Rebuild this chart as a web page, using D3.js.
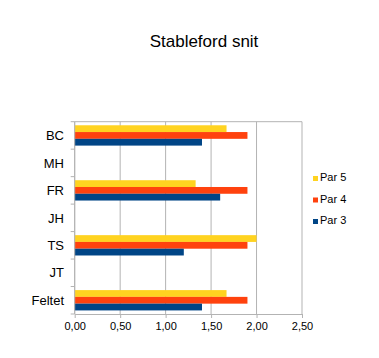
<!DOCTYPE html>
<html><head><meta charset="utf-8">
<script src="https://cdn.jsdelivr.net/npm/d3@7"></script>
<style>body{margin:0;background:#fff}svg{display:block}text{font-family:"Liberation Sans",Arial,sans-serif;fill:#000}</style>
</head><body><svg id="c" width="379" height="358"></svg>
<script>
const categories = ["BC","MH","FR","JH","TS","JT","Feltet"];
const seriesNames = ["Par 5","Par 4","Par 3"];
const par5 = [1.67, 0, 1.33, 0, 2.00, 0, 1.67];
const par4 = [1.90, 0, 1.90, 0, 1.90, 0, 1.90];
const par3 = [1.40, 0, 1.60, 0, 1.20, 0, 1.40];
const colors = ["#FFD320","#FF420E","#004586"];
const xTicks = [0, 0.5, 1, 1.5, 2, 2.5];

const svg = d3.select("#c");
const L = 74.7, R = 302, T = 121.7, B = 314;
const x = d3.scaleLinear().domain([0, 2.5]).range([L, R]);
const y = d3.scaleBand().domain(categories).range([T, B]).paddingInner(0.26).paddingOuter(0.13);
const ys = d3.scaleBand().domain(seriesNames).range([0, y.bandwidth()]);
const fmt = v => d3.format(".2f")(v).replace(".", ",");

svg.append("text").attr("x", 204).attr("y", 47).attr("text-anchor","middle").attr("font-size", 17).text("Stableford snit");

// grid
svg.append("g").selectAll("line").data(xTicks).join("line")
  .attr("x1", d => x(d)).attr("x2", d => x(d)).attr("y1", T).attr("y2", B)
  .attr("stroke", "#b3b3b3").attr("stroke-width", 1);
svg.append("line").attr("x1", L).attr("x2", R).attr("y1", T).attr("y2", T).attr("stroke","#b3b3b3");

// bars
const data = [par5, par4, par3];
data.forEach((vals, si) => {
  svg.append("g").selectAll("rect").data(categories).join("rect")
    .attr("x", x(0))
    .attr("y", (c) => y(c) + ys(seriesNames[si]))
    .attr("width", (c, i) => x(vals[i]) - x(0))
    .attr("height", ys.bandwidth())
    .attr("fill", colors[si]);
});

// axes
const xAxis = d3.axisBottom(x).tickValues(xTicks).tickFormat(fmt).tickSize(4).tickSizeOuter(0);
const gx = svg.append("g").attr("transform", `translate(0,${B})`).call(xAxis);
gx.select(".domain").attr("stroke", "#b3b3b3");
gx.selectAll(".tick line").attr("stroke", "#b3b3b3");
gx.selectAll(".tick text").attr("font-size", 11).attr("dy", "0.71em").attr("y", 8)
  .style("font-family", '"Liberation Sans",Arial,sans-serif').attr("fill","#000");

// y axis line and boundary ticks
svg.append("line").attr("x1", L).attr("x2", L).attr("y1", T).attr("y2", B).attr("stroke", "#b3b3b3");
const bounds = d3.range(categories.length + 1).map(i => T + i * (B - T) / categories.length);
svg.append("g").selectAll("line").data(bounds).join("line")
  .attr("x1", L - 4).attr("x2", L).attr("y1", d => d).attr("y2", d => d).attr("stroke", "#b3b3b3");
svg.append("g").selectAll("text").data(categories).join("text")
  .attr("x", 64).attr("y", c => y(c) + y.bandwidth() / 2).attr("dy", "0.36em")
  .attr("text-anchor", "end").attr("font-size", 13).text(c => c);

// legend
const lg = svg.append("g");
seriesNames.forEach((s, i) => {
  const yy = 181 + i * 21.5;
  lg.append("rect").attr("x", 313).attr("y", yy - 5).attr("width", 5).attr("height", 5).attr("fill", colors[i]);
  lg.append("text").attr("x", 320).attr("y", yy).attr("font-size", 11).text(s);
});
</script></body></html>
